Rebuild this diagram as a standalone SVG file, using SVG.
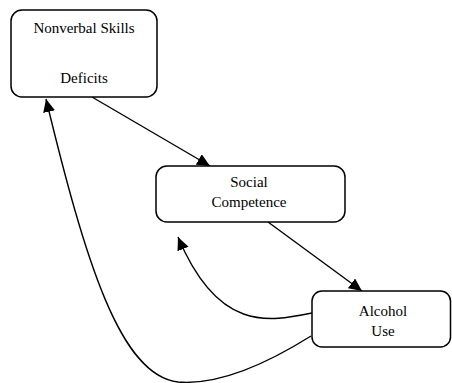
<svg xmlns="http://www.w3.org/2000/svg" width="452" height="383" viewBox="0 0 452 383">
<defs>
<marker id="ah" markerWidth="14" markerHeight="12" refX="13" refY="6" orient="auto" markerUnits="userSpaceOnUse">
<path d="M0,0 L13,6 L0,12 Z" fill="#000"/>
</marker>
<style>
.box{fill:#fff;stroke:#000;stroke-width:1.5}
.lbl{font-size:15px;fill:#000;text-anchor:middle}
.edge{fill:none;stroke:#000;stroke-width:1.4;marker-end:url(#ah)}
</style>
</defs>
<rect width="452" height="383" fill="#fff"/>
<g id="connectors">
<path class="edge" d="M92,97 L210,166"/>
<path class="edge" d="M268,222 L362,291"/>
<path class="edge" d="M312,313 C268,322 218,332 178,237"/>
<path class="edge" d="M311,336 C260,368 215,385 178,382 C120,376 85,260 46,99"/>
</g>
<g font-family="'Liberation Serif', 'Times New Roman', serif">
<g id="node-nonverbal">
<rect class="box" x="11" y="10" width="146" height="87" rx="11"/>
<text class="lbl" x="84" y="33">Nonverbal Skills</text>
<text class="lbl" x="84" y="83">Deficits</text>
</g>
<g id="node-social">
<rect class="box" x="156" y="166" width="189" height="56" rx="11"/>
<text class="lbl" x="249" y="187">Social</text>
<text class="lbl" x="249" y="207">Competence</text>
</g>
<g id="node-alcohol">
<rect class="box" x="312" y="291" width="138.5" height="56" rx="10"/>
<text class="lbl" x="383" y="316">Alcohol</text>
<text class="lbl" x="383" y="336">Use</text>
</g>
</g>
</svg>
